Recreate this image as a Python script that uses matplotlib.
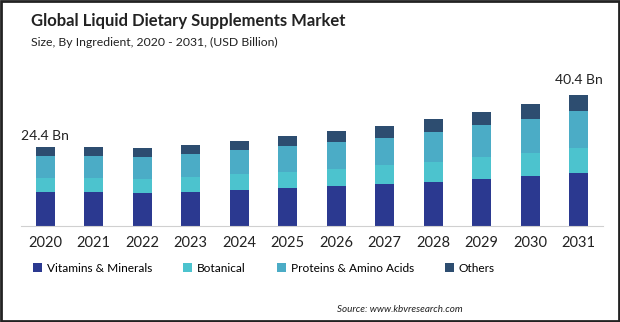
import matplotlib.pyplot as plt
import numpy as np
from matplotlib.patches import Rectangle

plt.rcParams['font.family'] = ['Lato', 'DejaVu Sans']

# Market size by ingredient, USD billion
years = ['2020', '2021', '2022', '2023', '2024', '2025',
         '2026', '2027', '2028', '2029', '2030', '2031']
vitamins = [10.5, 10.5, 10.2, 10.5, 11.1, 11.7, 12.3, 12.9, 13.5, 14.5, 15.4, 16.3]
botanical = [4.3, 4.3, 4.3, 4.6, 4.9, 4.9, 5.2, 5.8, 6.2, 6.8, 7.1, 7.7]
proteins = [6.8, 6.8, 6.8, 7.1, 7.4, 8.0, 8.3, 8.6, 9.2, 9.8, 10.5, 11.4]
others = [2.8, 2.7, 2.8, 2.8, 2.8, 3.1, 3.4, 3.7, 4.0, 4.0, 4.6, 5.0]

series = ['Vitamins & Minerals', 'Botanical', 'Proteins & Amino Acids', 'Others']
colors = ['#2b3990', '#4cc3ce', '#4bacc6', '#2d4d70']

fig = plt.figure(figsize=(6.2, 3.22), dpi=100)
ax = fig.add_axes([21 / 620, 1 - 226 / 322, 582 / 620, 162 / 322])

x = np.arange(len(years))
bottom = np.zeros(len(years))
handles = []
for name, vals, c in zip(series, [vitamins, botanical, proteins, others], colors):
    b = ax.bar(x, vals, width=0.39, bottom=bottom, color=c, label=name)
    handles.append(b)
    bottom += np.array(vals)

# total labels on first and last bar
ax.text(x[0], bottom[0] + 1.6, f'{bottom[0]:.1f} Bn', ha='center', va='bottom',
        fontsize=10, color='#222222')
ax.text(x[-1], bottom[-1] + 2.8, f'{bottom[-1]:.1f} Bn', ha='center', va='bottom',
        fontsize=10, color='#222222')

ax.set_xlim(-0.5, len(years) - 0.5)
ax.set_ylim(0, 50)
ax.set_xticks(x)
ax.set_xticklabels(years, fontsize=10.5, color='#222222')
ax.tick_params(axis='x', length=0, pad=7)
ax.set_yticks([])
for s in ['top', 'right', 'left']:
    ax.spines[s].set_visible(False)
ax.spines['bottom'].set_color('#d0d0d0')

fig.text(31 / 620, 1 - 21 / 322, 'Global Liquid Dietary Supplements Market',
         fontsize=12, fontweight='bold', color='#222222', va='center')
fig.text(31 / 620, 1 - 42 / 322, 'Size, By Ingredient, 2020 - 2031, (USD Billion)',
         fontsize=8.8, color='#222222', va='center')

fig.legend(handles=handles, labels=series, loc='center', ncol=4,
           bbox_to_anchor=(264 / 620, 1 - 268 / 322), frameon=False,
           fontsize=8.6, handlelength=0.75, handleheight=0.75,
           handletextpad=0.4, columnspacing=2.6)

fig.text(463 / 620, 1 - 309 / 322, 'Source: www.kbvresearch.com', ha='right',
         va='center', fontsize=7.1, style='italic', color='#222222')

# outer frame
fig.patches.append(Rectangle((0.001, 0.002), 0.997, 0.996, transform=fig.transFigure,
                             fill=False, edgecolor='#222222', linewidth=2))

plt.savefig('out.png', dpi=100)
